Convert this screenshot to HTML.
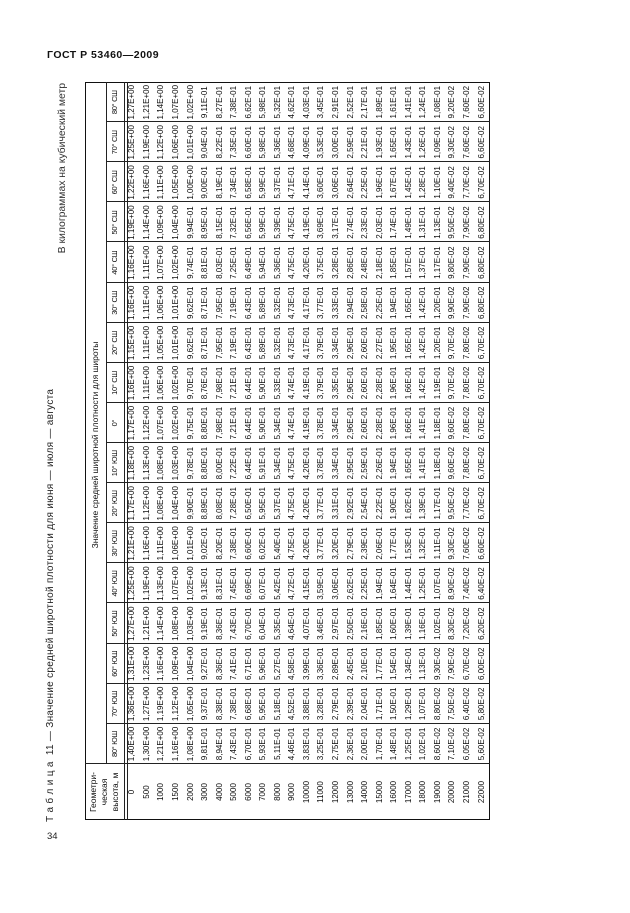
<!DOCTYPE html>
<html lang="ru">
<head>
<meta charset="utf-8">
<style>
  html,body{margin:0;padding:0;background:#fff;}
  body{width:630px;height:913px;position:relative;overflow:hidden;
       font-family:"Liberation Sans","Noto Sans CJK SC",Arial,sans-serif;color:#0d0d0d;}
  .abs{position:absolute;}
  .hdr{left:47px;top:48.9px;font-size:10.5px;font-weight:bold;letter-spacing:0.5px;line-height:12px;white-space:nowrap;color:#111;}
  .pg{left:47px;top:831.5px;font-size:9.5px;line-height:10px;color:#222;}
  .cap{left:45.2px;top:822px;transform-origin:0 0;transform:rotate(-90deg);font-size:10px;letter-spacing:0.3px;line-height:12px;white-space:nowrap;color:#222;}
  .unit{left:57.2px;top:283px;width:200px;text-align:right;transform-origin:0 0;transform:rotate(-90deg);font-size:10.4px;line-height:12px;white-space:nowrap;color:#333;}
  .tbl{left:85px;top:820px;width:738px;height:405px;transform-origin:0 0;transform:rotate(-90deg);}
  .box{position:absolute;left:0;top:0;width:738px;height:405px;border:1.3px solid #111;box-sizing:border-box;}
  .ln{position:absolute;background:#222;}
  .vl{width:1px;top:21px;height:384px;}
  .r{position:absolute;left:0;height:14.55px;line-height:14.55px;display:flex;font-size:8px;white-space:nowrap;}
  .r span{flex:none;width:40.118px;text-align:center;}
  .r span.a{width:56px;}
  .lat{position:absolute;left:56px;top:21px;height:18px;line-height:18px;display:flex;font-size:7.5px;letter-spacing:-0.3px;white-space:nowrap;}
  .lat span{flex:none;width:40.118px;text-align:center;}
  .geo{position:absolute;left:0;top:3px;width:56px;text-align:center;font-size:8.5px;line-height:11px;}
  .zn{position:absolute;left:56px;top:0;width:638px;height:21px;line-height:21px;text-align:center;font-size:8.5px;white-space:nowrap;}
</style>
</head>
<body>
<div class="abs hdr">ГОСТ Р 53460—2009</div>
<div class="abs pg">34</div>
<div class="abs cap">Т а б л и ц а&nbsp; 11 — Значение средней широтной плотности для июня — июля — августа</div>
<div class="abs unit">В килограммах на кубический метр</div>

<div class="abs tbl">
  <div class="box"></div>
  <div class="ln" style="left:56px;top:0;width:1.2px;height:405px;"></div>
  <div class="ln vl" style="left:96.1px"></div>
  <div class="ln vl" style="left:136.2px"></div>
  <div class="ln vl" style="left:176.4px"></div>
  <div class="ln vl" style="left:216.5px"></div>
  <div class="ln vl" style="left:256.6px"></div>
  <div class="ln vl" style="left:296.7px"></div>
  <div class="ln vl" style="left:336.8px"></div>
  <div class="ln vl" style="left:376.9px"></div>
  <div class="ln vl" style="left:417.1px"></div>
  <div class="ln vl" style="left:457.2px"></div>
  <div class="ln vl" style="left:497.3px"></div>
  <div class="ln vl" style="left:537.4px"></div>
  <div class="ln vl" style="left:577.5px"></div>
  <div class="ln vl" style="left:617.7px"></div>
  <div class="ln vl" style="left:657.8px"></div>
  <div class="ln vl" style="left:697.9px"></div>
  <div class="ln" style="left:56px;top:21px;width:682px;height:1px;"></div>
  <div class="ln" style="left:0;top:39px;width:738px;height:1px;"></div>
  <div class="ln" style="left:0;top:41.6px;width:738px;height:1px;"></div>

  <div class="geo">Геометри-<br>ческая<br>высота, м</div>
  <div class="zn">Значение средней широтной плотности для широты</div>
  <div class="lat"><span>80° ЮШ</span><span>70° ЮШ</span><span>60° ЮШ</span><span>50° ЮШ</span><span>40° ЮШ</span><span>30° ЮШ</span><span>20° ЮШ</span><span>10° ЮШ</span><span>0°</span><span>10° СШ</span><span>20° СШ</span><span>30° СШ</span><span>40° СШ</span><span>50° СШ</span><span>60° СШ</span><span>70° СШ</span><span>80° СШ</span></div>

  <div class="r" style="top:40.3px"><span class="a">0</span><span>1,40E+00</span><span>1,36E+00</span><span>1,31E+00</span><span>1,27E+00</span><span>1,25E+00</span><span>1,21E+00</span><span>1,17E+00</span><span>1,18E+00</span><span>1,17E+00</span><span>1,16E+00</span><span>1,15E+00</span><span>1,16E+00</span><span>1,16E+00</span><span>1,19E+00</span><span>1,22E+00</span><span>1,25E+00</span><span>1,27E+00</span></div>
  <div class="r" style="top:54.85px"><span class="a">500</span><span>1,30E+00</span><span>1,27E+00</span><span>1,23E+00</span><span>1,21E+00</span><span>1,19E+00</span><span>1,16E+00</span><span>1,12E+00</span><span>1,13E+00</span><span>1,12E+00</span><span>1,11E+00</span><span>1,11E+00</span><span>1,11E+00</span><span>1,11E+00</span><span>1,14E+00</span><span>1,16E+00</span><span>1,19E+00</span><span>1,21E+00</span></div>
  <div class="r" style="top:69.4px"><span class="a">1000</span><span>1,21E+00</span><span>1,19E+00</span><span>1,16E+00</span><span>1,14E+00</span><span>1,13E+00</span><span>1,11E+00</span><span>1,08E+00</span><span>1,08E+00</span><span>1,07E+00</span><span>1,06E+00</span><span>1,05E+00</span><span>1,06E+00</span><span>1,07E+00</span><span>1,09E+00</span><span>1,11E+00</span><span>1,12E+00</span><span>1,14E+00</span></div>
  <div class="r" style="top:83.95px"><span class="a">1500</span><span>1,16E+00</span><span>1,12E+00</span><span>1,09E+00</span><span>1,08E+00</span><span>1,07E+00</span><span>1,06E+00</span><span>1,04E+00</span><span>1,03E+00</span><span>1,02E+00</span><span>1,02E+00</span><span>1,01E+00</span><span>1,01E+00</span><span>1,02E+00</span><span>1,04E+00</span><span>1,05E+00</span><span>1,06E+00</span><span>1,07E+00</span></div>
  <div class="r" style="top:98.5px"><span class="a">2000</span><span>1,08E+00</span><span>1,05E+00</span><span>1,04E+00</span><span>1,03E+00</span><span>1,02E+00</span><span>1,01E+00</span><span>9,90E-01</span><span>9,78E-01</span><span>9,75E-01</span><span>9,70E-01</span><span>9,62E-01</span><span>9,62E-01</span><span>9,74E-01</span><span>9,94E-01</span><span>1,00E+00</span><span>1,01E+00</span><span>1,02E+00</span></div>
  <div class="r" style="top:113.05px"><span class="a">3000</span><span>9,81E-01</span><span>9,37E-01</span><span>9,27E-01</span><span>9,19E-01</span><span>9,13E-01</span><span>9,02E-01</span><span>8,89E-01</span><span>8,80E-01</span><span>8,80E-01</span><span>8,76E-01</span><span>8,71E-01</span><span>8,71E-01</span><span>8,81E-01</span><span>8,95E-01</span><span>9,00E-01</span><span>9,04E-01</span><span>9,11E-01</span></div>
  <div class="r" style="top:127.6px"><span class="a">4000</span><span>8,94E-01</span><span>8,38E-01</span><span>8,36E-01</span><span>8,36E-01</span><span>8,31E-01</span><span>8,20E-01</span><span>8,08E-01</span><span>8,00E-01</span><span>7,98E-01</span><span>7,98E-01</span><span>7,95E-01</span><span>7,95E-01</span><span>8,03E-01</span><span>8,15E-01</span><span>8,19E-01</span><span>8,22E-01</span><span>8,27E-01</span></div>
  <div class="r" style="top:142.15px"><span class="a">5000</span><span>7,43E-01</span><span>7,38E-01</span><span>7,41E-01</span><span>7,43E-01</span><span>7,45E-01</span><span>7,38E-01</span><span>7,28E-01</span><span>7,22E-01</span><span>7,21E-01</span><span>7,21E-01</span><span>7,19E-01</span><span>7,19E-01</span><span>7,25E-01</span><span>7,32E-01</span><span>7,34E-01</span><span>7,35E-01</span><span>7,38E-01</span></div>
  <div class="r" style="top:156.7px"><span class="a">6000</span><span>6,70E-01</span><span>6,68E-01</span><span>6,71E-01</span><span>6,70E-01</span><span>6,69E-01</span><span>6,60E-01</span><span>6,50E-01</span><span>6,44E-01</span><span>6,44E-01</span><span>6,44E-01</span><span>6,43E-01</span><span>6,43E-01</span><span>6,49E-01</span><span>6,56E-01</span><span>6,58E-01</span><span>6,60E-01</span><span>6,62E-01</span></div>
  <div class="r" style="top:171.25px"><span class="a">7000</span><span>5,93E-01</span><span>5,95E-01</span><span>5,96E-01</span><span>6,04E-01</span><span>6,07E-01</span><span>6,02E-01</span><span>5,95E-01</span><span>5,91E-01</span><span>5,90E-01</span><span>5,90E-01</span><span>5,89E-01</span><span>5,89E-01</span><span>5,94E-01</span><span>5,99E-01</span><span>5,99E-01</span><span>5,98E-01</span><span>5,98E-01</span></div>
  <div class="r" style="top:185.8px"><span class="a">8000</span><span>5,11E-01</span><span>5,18E-01</span><span>5,27E-01</span><span>5,35E-01</span><span>5,42E-01</span><span>5,40E-01</span><span>5,37E-01</span><span>5,34E-01</span><span>5,34E-01</span><span>5,33E-01</span><span>5,32E-01</span><span>5,32E-01</span><span>5,36E-01</span><span>5,39E-01</span><span>5,37E-01</span><span>5,36E-01</span><span>5,32E-01</span></div>
  <div class="r" style="top:200.35px"><span class="a">9000</span><span>4,46E-01</span><span>4,52E-01</span><span>4,58E-01</span><span>4,64E-01</span><span>4,72E-01</span><span>4,75E-01</span><span>4,75E-01</span><span>4,75E-01</span><span>4,74E-01</span><span>4,74E-01</span><span>4,73E-01</span><span>4,73E-01</span><span>4,75E-01</span><span>4,75E-01</span><span>4,71E-01</span><span>4,68E-01</span><span>4,62E-01</span></div>
  <div class="r" style="top:214.9px"><span class="a">10000</span><span>3,83E-01</span><span>3,88E-01</span><span>3,99E-01</span><span>4,07E-01</span><span>4,15E-01</span><span>4,20E-01</span><span>4,20E-01</span><span>4,20E-01</span><span>4,19E-01</span><span>4,19E-01</span><span>4,17E-01</span><span>4,17E-01</span><span>4,20E-01</span><span>4,19E-01</span><span>4,14E-01</span><span>4,09E-01</span><span>4,03E-01</span></div>
  <div class="r" style="top:229.45px"><span class="a">11000</span><span>3,25E-01</span><span>3,28E-01</span><span>3,36E-01</span><span>3,46E-01</span><span>3,59E-01</span><span>3,77E-01</span><span>3,77E-01</span><span>3,78E-01</span><span>3,78E-01</span><span>3,79E-01</span><span>3,79E-01</span><span>3,77E-01</span><span>3,75E-01</span><span>3,69E-01</span><span>3,60E-01</span><span>3,53E-01</span><span>3,45E-01</span></div>
  <div class="r" style="top:244px"><span class="a">12000</span><span>2,75E-01</span><span>2,79E-01</span><span>2,89E-01</span><span>2,97E-01</span><span>3,06E-01</span><span>3,20E-01</span><span>3,31E-01</span><span>3,34E-01</span><span>3,34E-01</span><span>3,35E-01</span><span>3,34E-01</span><span>3,33E-01</span><span>3,28E-01</span><span>3,17E-01</span><span>3,06E-01</span><span>3,00E-01</span><span>2,91E-01</span></div>
  <div class="r" style="top:258.55px"><span class="a">13000</span><span>2,36E-01</span><span>2,39E-01</span><span>2,45E-01</span><span>2,50E-01</span><span>2,62E-01</span><span>2,79E-01</span><span>2,92E-01</span><span>2,95E-01</span><span>2,96E-01</span><span>2,96E-01</span><span>2,96E-01</span><span>2,94E-01</span><span>2,86E-01</span><span>2,74E-01</span><span>2,64E-01</span><span>2,59E-01</span><span>2,52E-01</span></div>
  <div class="r" style="top:273.1px"><span class="a">14000</span><span>2,00E-01</span><span>2,04E-01</span><span>2,10E-01</span><span>2,16E-01</span><span>2,25E-01</span><span>2,39E-01</span><span>2,54E-01</span><span>2,59E-01</span><span>2,60E-01</span><span>2,60E-01</span><span>2,60E-01</span><span>2,58E-01</span><span>2,48E-01</span><span>2,33E-01</span><span>2,25E-01</span><span>2,21E-01</span><span>2,17E-01</span></div>
  <div class="r" style="top:287.65px"><span class="a">15000</span><span>1,70E-01</span><span>1,71E-01</span><span>1,77E-01</span><span>1,85E-01</span><span>1,94E-01</span><span>2,06E-01</span><span>2,22E-01</span><span>2,26E-01</span><span>2,28E-01</span><span>2,28E-01</span><span>2,27E-01</span><span>2,25E-01</span><span>2,18E-01</span><span>2,03E-01</span><span>1,96E-01</span><span>1,93E-01</span><span>1,89E-01</span></div>
  <div class="r" style="top:302.2px"><span class="a">16000</span><span>1,48E-01</span><span>1,50E-01</span><span>1,54E-01</span><span>1,60E-01</span><span>1,64E-01</span><span>1,77E-01</span><span>1,90E-01</span><span>1,94E-01</span><span>1,96E-01</span><span>1,96E-01</span><span>1,95E-01</span><span>1,94E-01</span><span>1,85E-01</span><span>1,74E-01</span><span>1,67E-01</span><span>1,65E-01</span><span>1,61E-01</span></div>
  <div class="r" style="top:316.75px"><span class="a">17000</span><span>1,25E-01</span><span>1,29E-01</span><span>1,34E-01</span><span>1,39E-01</span><span>1,44E-01</span><span>1,53E-01</span><span>1,62E-01</span><span>1,65E-01</span><span>1,66E-01</span><span>1,66E-01</span><span>1,65E-01</span><span>1,65E-01</span><span>1,57E-01</span><span>1,49E-01</span><span>1,45E-01</span><span>1,43E-01</span><span>1,41E-01</span></div>
  <div class="r" style="top:331.3px"><span class="a">18000</span><span>1,02E-01</span><span>1,07E-01</span><span>1,13E-01</span><span>1,16E-01</span><span>1,25E-01</span><span>1,32E-01</span><span>1,39E-01</span><span>1,41E-01</span><span>1,41E-01</span><span>1,42E-01</span><span>1,42E-01</span><span>1,42E-01</span><span>1,37E-01</span><span>1,31E-01</span><span>1,28E-01</span><span>1,26E-01</span><span>1,24E-01</span></div>
  <div class="r" style="top:345.85px"><span class="a">19000</span><span>8,60E-02</span><span>8,80E-02</span><span>9,30E-02</span><span>1,02E-01</span><span>1,07E-01</span><span>1,11E-01</span><span>1,17E-01</span><span>1,18E-01</span><span>1,18E-01</span><span>1,19E-01</span><span>1,20E-01</span><span>1,20E-01</span><span>1,17E-01</span><span>1,13E-01</span><span>1,10E-01</span><span>1,09E-01</span><span>1,08E-01</span></div>
  <div class="r" style="top:360.4px"><span class="a">20000</span><span>7,10E-02</span><span>7,50E-02</span><span>7,90E-02</span><span>8,30E-02</span><span>8,90E-02</span><span>9,30E-02</span><span>9,50E-02</span><span>9,60E-02</span><span>9,60E-02</span><span>9,70E-02</span><span>9,70E-02</span><span>9,90E-02</span><span>9,80E-02</span><span>9,50E-02</span><span>9,40E-02</span><span>9,30E-02</span><span>9,20E-02</span></div>
  <div class="r" style="top:374.95px"><span class="a">21000</span><span>6,05E-02</span><span>6,40E-02</span><span>6,70E-02</span><span>7,20E-02</span><span>7,40E-02</span><span>7,60E-02</span><span>7,70E-02</span><span>7,80E-02</span><span>7,80E-02</span><span>7,80E-02</span><span>7,80E-02</span><span>7,90E-02</span><span>7,90E-02</span><span>7,90E-02</span><span>7,70E-02</span><span>7,60E-02</span><span>7,60E-02</span></div>
  <div class="r" style="top:389.5px"><span class="a">22000</span><span>5,60E-02</span><span>5,80E-02</span><span>6,00E-02</span><span>6,20E-02</span><span>6,40E-02</span><span>6,60E-02</span><span>6,70E-02</span><span>6,70E-02</span><span>6,70E-02</span><span>6,70E-02</span><span>6,70E-02</span><span>6,80E-02</span><span>6,80E-02</span><span>6,80E-02</span><span>6,70E-02</span><span>6,60E-02</span><span>6,60E-02</span></div>
</div>
</body>
</html>
